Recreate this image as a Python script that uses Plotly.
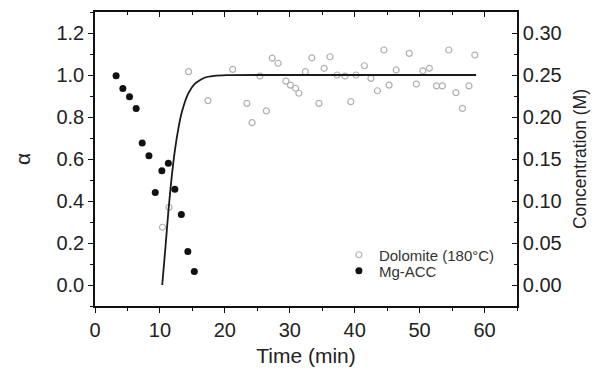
import plotly.graph_objects as go

# Mg-ACC concentration (M) vs time (min)
acc_time = [3.25, 4.29, 5.32, 6.34, 7.27, 8.31, 9.28, 10.3, 11.3, 12.3, 13.3, 14.3, 15.3]
acc_conc = [0.249, 0.234, 0.224, 0.210, 0.169, 0.154, 0.110, 0.136, 0.145, 0.114, 0.084, 0.040, 0.016]

# Dolomite (180°C) degree of reaction alpha vs time
dol_time = [10.4, 11.4, 14.4, 17.4, 21.2, 23.4, 24.2, 25.4, 26.4, 27.3, 28.2, 29.4, 30.1, 30.9,
            31.4, 32.4, 33.4, 34.5, 35.3, 36.2, 37.3, 38.5, 39.4, 40.2, 41.5, 42.5, 43.5,
            44.5, 45.3, 46.4, 48.4, 49.5, 50.5, 51.5, 52.6, 53.5, 54.5, 55.6, 56.6, 57.6, 58.5]
dol_alpha = [0.275, 0.37, 1.016, 0.878, 1.027, 0.865, 0.773, 0.995, 0.829, 1.08, 1.056, 0.971, 0.952, 0.937,
             0.913, 1.016, 1.082, 0.865, 1.032, 1.087, 1.0, 0.995, 0.873, 1.0, 1.044, 0.984, 0.925,
             1.119, 0.952, 1.024, 1.103, 0.957, 1.02, 1.032, 0.948, 0.948, 1.119, 0.916, 0.841, 0.948, 1.095]

# Fitted curve
fit_time = [10.35, 10.8, 11.3, 11.8, 12.3, 12.85, 13.35, 14.35, 15.35, 16.85, 18.35, 20.35, 25.0, 35.0, 45.0, 58.7]
fit_alpha = [0.0, 0.16, 0.35, 0.51, 0.64, 0.747, 0.82, 0.911, 0.958, 0.987, 0.996, 0.999, 1.0, 1.0, 1.0, 1.0]

FONT = "Liberation Sans, Arial, sans-serif"
TXT = "#222222"

fig = go.Figure()

fig.add_trace(go.Scatter(
    x=dol_time, y=dol_alpha, mode="markers", name="Dolomite (180°C)", legend="legend",
    marker=dict(symbol="circle-open", size=6, color="#b0b0b0", line=dict(width=1.2)),
))
fig.add_trace(go.Scatter(
    x=acc_time, y=acc_conc, mode="markers", name="Mg-ACC", yaxis="y2", legend="legend2",
    marker=dict(symbol="circle", size=7, color="#111111"),
))
fig.add_trace(go.Scatter(
    x=fit_time, y=fit_alpha, mode="lines", showlegend=False,
    line=dict(color="#1a1a1a", width=1.8, shape="spline", smoothing=0.6),
))
# dummy trace to anchor top mirrored axis
fig.add_trace(go.Scatter(x=[None], y=[None], xaxis="x2", showlegend=False, hoverinfo="skip"))

axis_line = dict(showline=True, linecolor="#111111", linewidth=1.6, showgrid=False,
                 zeroline=False, automargin=False)

legend_style = dict(xanchor="left", yanchor="middle", bgcolor="rgba(0,0,0,0)",
                    font=dict(size=15, color="#333"), itemwidth=30)

fig.update_layout(
    width=596, height=370,
    margin=dict(l=95, r=79, t=12, b=64),
    paper_bgcolor="white", plot_bgcolor="white",
    font=dict(family=FONT, size=20, color=TXT),
    xaxis=dict(
        range=[0, 65], tick0=0, dtick=10, ticks="outside", ticklen=5, tickwidth=1.3, tickcolor="#111",
        minor=dict(dtick=5, ticks="outside", ticklen=3, tickcolor="#111"),
        title=dict(text="Time (min)", font=dict(size=21), standoff=9),
        **axis_line,
    ),
    xaxis2=dict(
        overlaying="x", side="top", matches="x", range=[0, 65], tick0=0, dtick=10,
        ticks="inside", ticklen=5, tickwidth=1.3, tickcolor="#111", showticklabels=False,
        minor=dict(dtick=5, ticks="inside", ticklen=3, tickcolor="#111"),
        **axis_line,
    ),
    yaxis=dict(
        range=[-0.1, 1.3], tick0=0, dtick=0.2, tickformat=".1f",
        ticks="outside", ticklen=5, tickwidth=1.3, tickcolor="#111",
        minor=dict(dtick=0.1, ticks="outside", ticklen=3, tickcolor="#111"),
        title=dict(text="α", font=dict(size=21), standoff=20),
        **axis_line,
    ),
    yaxis2=dict(
        overlaying="y", side="right", range=[-0.025, 0.325], tick0=0, dtick=0.05, tickformat=".2f",
        ticks="inside", ticklen=5, tickwidth=1.3, tickcolor="#111",
        minor=dict(dtick=0.025, ticks="inside", ticklen=3, tickcolor="#111"),
        title=dict(text="Concentration (M)", font=dict(size=17.5), standoff=13),
        **axis_line,
    ),
    legend=dict(x=0.578, y=0.1735, **legend_style),
    legend2=dict(x=0.578, y=0.119, **legend_style),
)

fig.write_html("out.html", config={"displayModeBar": False},
               post_script="document.body.style.margin='0';")
